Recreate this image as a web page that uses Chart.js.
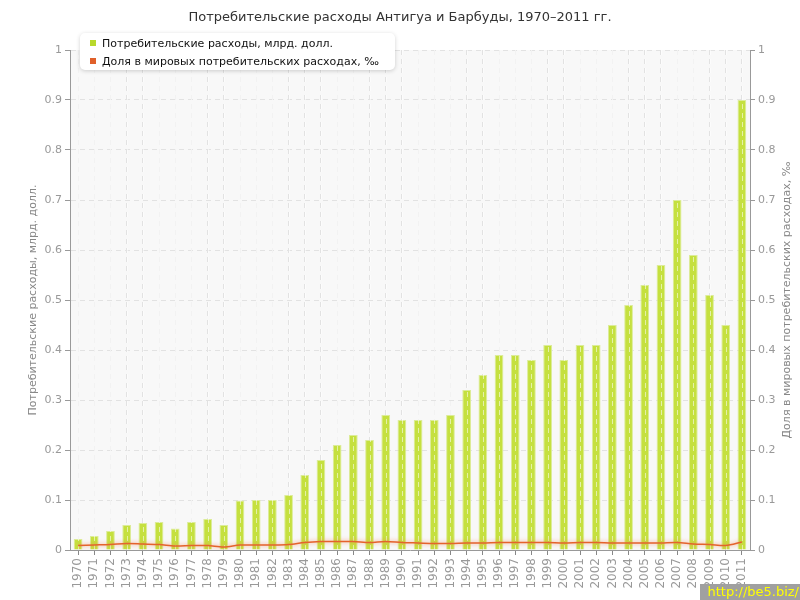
<!DOCTYPE html>
<html>
<head>
<meta charset="utf-8">
<script src="https://cdn.jsdelivr.net/npm/chart.js@4.4.0/dist/chart.umd.min.js"></script>
<style>
  body { margin:0; background:#fff; }
  #wrap { width:800px; height:600px; }
</style>
</head>
<body>
<div id="wrap"><canvas id="miGrafica" width="800" height="600"></canvas></div>
<script>

var years = ['1970','1971','1972','1973','1974','1975','1976','1977','1978','1979',
             '1980','1981','1982','1983','1984','1985','1986','1987','1988','1989',
             '1990','1991','1992','1993','1994','1995','1996','1997','1998','1999',
             '2000','2001','2002','2003','2004','2005','2006','2007','2008','2009',
             '2010','2011'];

// потребительские расходы, млрд. долл.
var gasto = [0.022,0.028,0.038,0.050,0.054,0.056,0.043,0.056,0.062,0.050,
             0.099,0.100,0.100,0.110,0.150,0.180,0.210,0.230,0.220,0.270,
             0.260,0.260,0.260,0.270,0.320,0.350,0.390,0.390,0.380,0.410,
             0.380,0.410,0.410,0.450,0.490,0.530,0.570,0.700,0.590,0.510,
             0.450,0.900];

// доля в мировых расходах, ‰
var dolya = [0.009,0.010,0.011,0.013,0.012,0.011,0.008,0.009,0.009,0.006,
             0.010,0.010,0.010,0.011,0.015,0.017,0.017,0.017,0.015,0.017,
             0.015,0.014,0.013,0.013,0.014,0.014,0.015,0.015,0.015,0.015,
             0.014,0.015,0.015,0.014,0.014,0.014,0.014,0.015,0.012,0.011,
             0.009,0.016];

var tituloGrafica = 'Потребительские расходы Антигуа и Барбуды, 1970–2011 гг.';
var tituloIzq = 'Потребительские расходы, млрд. долл.';
var tituloDer = 'Доля в мировых потребительских расходах, ‰';
var labelBarras = 'Потребительские расходы, млрд. долл.';
var labelLinea = 'Доля в мировых потребительских расходах, ‰';

var fuente = '"DejaVu Sans", Verdana, sans-serif';
var gris = '#999';

function formatoTick(v) {
  return String(Math.round(v * 10) / 10);
}

// fondo del area, titulos, leyenda y marca de agua
var pluginExtras = {
  id: 'extras',
  beforeDraw: function(chart) {
    var ctx = chart.ctx, a = chart.chartArea;
    ctx.save();
    ctx.fillStyle = '#f8f8f8';
    ctx.fillRect(a.left, a.top, a.right - a.left, a.bottom - a.top);
    ctx.restore();
  },
  beforeDatasetDraw: function(chart, args) {
    if (args.index == 1) {
      chart.ctx.save();
      chart.ctx.shadowColor = 'rgba(240,130,80,0.8)';
      chart.ctx.shadowBlur = 4;
    }
  },
  afterDatasetDraw: function(chart, args) {
    if (args.index == 1) chart.ctx.restore();
    if (args.index == 0) {
      // rayas verticales por encima de las barras
      var ctx = chart.ctx, a = chart.chartArea, sx = chart.scales.x;
      ctx.save();
      ctx.strokeStyle = 'rgba(255,255,255,0.55)';
      ctx.lineWidth = 1;
      ctx.setLineDash([5, 4]);
      for (var i = 0; i < years.length; i++) {
        var px = Math.round(sx.getPixelForValue(i)) + 0.5;
        ctx.beginPath();
        ctx.moveTo(px, a.bottom);
        ctx.lineTo(px, a.top);
        ctx.stroke();
      }
      ctx.restore();
    }
  },
  afterDraw: function(chart) {
    var ctx = chart.ctx, a = chart.chartArea;
    ctx.save();

    ctx.fillStyle = '#333';
    ctx.font = '13px ' + fuente;
    ctx.textAlign = 'center';
    ctx.textBaseline = 'middle';
    ctx.fillText(tituloGrafica, chart.width / 2, 18);

    ctx.fillStyle = '#888';
    ctx.font = '11px ' + fuente;
    ctx.save();
    ctx.translate(a.left - 37, (a.top + a.bottom) / 2);
    ctx.rotate(-Math.PI / 2);
    ctx.fillText(tituloIzq, 0, 0);
    ctx.restore();
    ctx.save();
    ctx.translate(a.right + 37, (a.top + a.bottom) / 2);
    ctx.rotate(-Math.PI / 2);
    ctx.fillText(tituloDer, 0, 0);
    ctx.restore();

    // leyenda
    var lx = a.left + 10, ly = a.top - 17, lw = 315, lh = 37;
    ctx.save();
    ctx.shadowColor = 'rgba(0,0,0,0.18)';
    ctx.shadowBlur = 4;
    ctx.shadowOffsetY = 1;
    ctx.fillStyle = '#fff';
    ctx.beginPath();
    ctx.roundRect(lx, ly, lw, lh, 5);
    ctx.fill();
    ctx.restore();
    var colores = ['#b8d82c', '#e0602a'];
    ctx.textAlign = 'left';
    ctx.font = '11px ' + fuente;
    chart.data.datasets.forEach(function(ds, i) {
      var y = ly + 10 + i * 18;
      ctx.fillStyle = colores[i];
      ctx.fillRect(lx + 10, y - 3, 6, 6);
      ctx.fillStyle = '#111';
      ctx.fillText(ds.label, lx + 22, y + 1);
    });

    // marca de agua
    ctx.fillStyle = '#a0a0a0';
    ctx.fillRect(chart.width - 100, chart.height - 16, 100, 16);
    ctx.fillStyle = '#ffff00';
    ctx.font = '13px ' + fuente;
    ctx.textAlign = 'right';
    ctx.fillText('http://be5.biz/', chart.width - 1, chart.height - 7);
    ctx.restore();
  }
};

let miCanvas = document.getElementById('miGrafica').getContext('2d');

var chart = new Chart(miCanvas, {
  type: 'bar',
  data: {
    labels: years,
    datasets: [
      {
        type: 'bar',
        label: labelBarras,
        data: gasto,
        backgroundColor: '#c5e03f',
        borderColor: '#dcec98',
        borderWidth: 1,
        categoryPercentage: 1,
        barPercentage: 0.54,
        yAxisID: 'y',
        order: 2
      },
      {
        type: 'line',
        label: labelLinea,
        data: dolya,
        borderColor: '#e4632c',
        borderWidth: 1.5,
        pointRadius: 0,
        tension: 0.3,
        yAxisID: 'y1',
        order: 1
      }
    ]
  },
  plugins: [pluginExtras],
  options: {
    responsive: false,
    animation: false,
    layout: { padding: { top: 50, left: 0, right: 0, bottom: 0 } },
    plugins: {
      legend: { display: false },
      title: { display: false },
      tooltip: { enabled: false }
    },
    scales: {
      x: {
        offset: true,
        grid: { offset: false, color: '#e2e2e2', tickColor: '#888', tickLength: 5 },
        border: { color: gris, dash: [5, 4] },
        ticks: {
          color: gris, font: { family: fuente, size: 12 },
          minRotation: 90, maxRotation: 90, autoSkip: false, padding: 3
        },
        afterFit: function(s) { s.height = 50; }
      },
      y: {
        position: 'left',
        min: 0, max: 1,
        grid: { color: '#e2e2e2', tickColor: gris, tickLength: 5 },
        border: { color: gris, dash: [5, 4] },
        ticks: { stepSize: 0.1, color: gris, font: { family: fuente, size: 11 }, padding: 3, callback: formatoTick },
        afterFit: function(s) { s.width = 70; }
      },
      y1: {
        position: 'right',
        min: 0, max: 1,
        grid: { drawOnChartArea: false, tickColor: gris, tickLength: 5 },
        border: { color: gris },
        ticks: { stepSize: 0.1, color: gris, font: { family: fuente, size: 11 }, padding: 3, callback: formatoTick },
        afterFit: function(s) { s.width = 50; }
      }
    }
  }
});

</script>
</body>
</html>
